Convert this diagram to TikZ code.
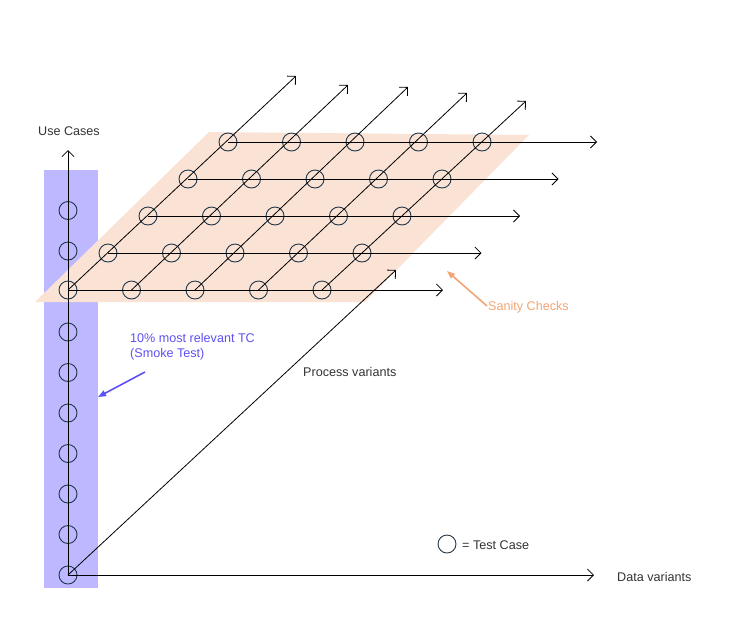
\documentclass[tikz,border=0pt]{standalone}
\usepackage{fontspec}
\setmainfont{Liberation Sans}
\usetikzlibrary{arrows.meta}
\definecolor{smokebg}{HTML}{BDB8FF}
\definecolor{smokefg}{HTML}{5E50F2}
\definecolor{sanitybg}{HTML}{FAE3D5}
\definecolor{sanityfg}{HTML}{F3A472}
\definecolor{tcline}{HTML}{22384A}
\definecolor{txt}{HTML}{333333}
\tikzset{
  tc/.style={circle, draw=tcline, line width=0.9pt, minimum size=18pt, inner sep=0pt},
  axis/.style={line width=0.8pt, -{Straight Barb[length=6pt,width=12pt]}},
  note/.style={-{Triangle[length=8pt,width=6pt]}, line width=1.6pt},
  lbl/.style={text=txt, font=\fontsize{12.6}{15}\selectfont, inner sep=0pt}
}
\begin{document}
\begin{tikzpicture}[x=1pt,y=-1pt]
\useasboundingbox (0,0) rectangle (744,630);

% backgrounds
\fill[smokebg] (44,170) rectangle (98,588);
\fill[sanitybg] (35,302)--(365,302)--(529,135)--(209,132)--cycle;

% use case axis with test cases
\node[tc] (u-0) at (68,575) {};
\foreach \k in {1,...,6,8,9}
{	\node[tc] (u-\k) at (68,{575-40.5*\k}) {};
}
\coordinate (uc) at (68,150);
\draw[axis] (u-0.center)--(uc);

% data and process axes
\coordinate (dv) at (594,575);
\coordinate (pv) at (396,270);
\draw[axis] (u-0.center)--(dv);
\draw[axis] (u-0.center)--(pv);

% grid of test cases on the plane
\foreach \i in {0,...,4}
{	\foreach \j in {0,...,4}
	{	\node[tc] (c-\i-\j) at ({68+63.5*\j+40*\i},{290-37*\i}) {};
	}
}
\foreach \i in {0,...,4}
{	\coordinate (r-\i) at ({443+38.5*\i},{290-37*\i});
	\draw[axis] (c-\i-0.center)--(r-\i);
}
\foreach \j/\x/\y in {0/296/76,1/348/85,2/408/87,3/467/93,4/526/101}
{	\coordinate (d-\j) at (\x,\y);
	\draw[axis] (c-0-\j.center)--(d-\j);
}

% labels
\node[lbl] at (69,131) {Use Cases};
\node[lbl, anchor=west] at (617,577) {Data variants};
\node[lbl, anchor=west] at (303,372) {Process variants};

% smoke test
\node[lbl, text=smokefg, anchor=north west, align=left] (smoke) at (130,333) {10\% most relevant TC\\(Smoke Test)};
\coordinate (s-a) at (145,372);
\coordinate (s-b) at (98,397);
\draw[note, smokefg] (s-a)--(s-b);

% sanity checks
\node[lbl, text=sanityfg, anchor=west] (sanity) at (488,307) {Sanity Checks};
\coordinate (o-a) at (487,306);
\coordinate (o-b) at (447,271);
\draw[note, sanityfg] (o-a)--(o-b);

% legend
\node[tc] (leg) at (447,544) {};
\node[lbl, anchor=west] at (462,545) {= Test Case};
\end{tikzpicture}
\end{document}
